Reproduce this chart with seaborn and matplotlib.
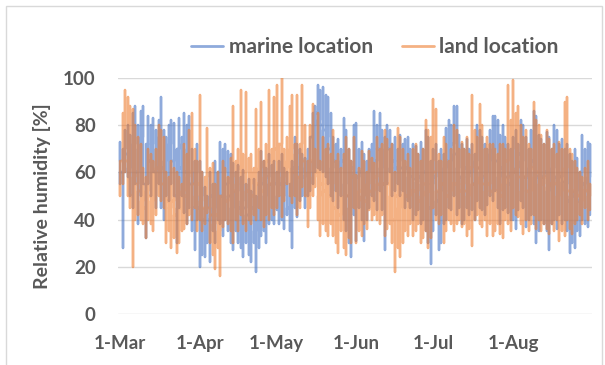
import numpy as np
import pandas as pd
import seaborn as sns
import matplotlib
matplotlib.use("Agg")
import matplotlib.pyplot as plt
from matplotlib.patches import Rectangle
from matplotlib.lines import Line2D

# ---- data: per day (1 Mar .. 31 Aug) max, min and midnight level of RH [%] ----
marine_max = [
    73, 62, 78, 80, 76, 85, 88, 80, 86, 88, 70, 84, 80, 83, 78, 82, 92, 78, 75, 80, 82, 81, 70, 83, 75, 85, 80, 84, 70, 65, 72,  # Mar
    65, 60, 54, 50, 60, 55, 65, 60, 73, 70, 72, 69, 68, 64, 60, 63, 58, 61, 55, 57, 52, 57, 50, 60, 69, 65, 62, 68, 63, 65,  # Apr
    60, 65, 68, 62, 60, 55, 65, 75, 72, 70, 68, 66, 70, 72, 85, 88, 97, 95, 96, 93, 92, 85, 75, 72, 74, 70, 83, 78, 70, 65, 80,  # May
    81, 70, 73, 68, 65, 70, 72, 86, 80, 85, 78, 75, 80, 78, 72, 75, 70, 76, 72, 74, 75, 70, 72, 71, 68, 73, 70, 78, 75, 65,  # Jun
    70, 72, 65, 70, 68, 79, 82, 80, 88, 88, 76, 72, 70, 74, 70, 72, 68, 80, 78, 75, 72, 70, 78, 84, 84, 82, 76, 80, 75, 72, 70,  # Jul
    75, 78, 72, 82, 80, 75, 70, 78, 86, 84, 76, 74, 72, 77, 75, 70, 80, 78, 72, 74, 70, 72, 68, 65, 70, 66, 60, 76, 70, 73, 72,  # Aug
]
marine_min = [
    55, 28, 60, 58, 50, 45, 55, 38, 50, 55, 32, 55, 50, 60, 45, 55, 45, 40, 50, 48, 55, 50, 30, 45, 50, 43, 38, 45, 35, 27, 40,
    20, 25, 24, 30, 22, 35, 30, 40, 38, 33, 40, 35, 30, 27, 35, 30, 28, 24, 30, 25, 22, 30, 18, 28, 33, 35, 30, 38, 40, 38,
    44, 38, 40, 36, 42, 35, 28, 45, 41, 48, 50, 45, 50, 52, 55, 60, 62, 61, 60, 58, 55, 50, 48, 52, 45, 50, 40, 35, 30, 24, 42,
    31, 45, 40, 31, 40, 45, 50, 48, 44, 52, 44, 27, 55, 60, 50, 52, 55, 50, 52, 45, 48, 45, 40, 42, 44, 38, 40, 35, 30, 21,
    35, 42, 27, 30, 38, 40, 45, 44, 50, 42, 45, 38, 40, 45, 42, 44, 40, 48, 45, 44, 42, 46, 50, 48, 52, 45, 38, 44, 45, 43, 40,
    40, 36, 44, 48, 45, 37, 40, 42, 38, 30, 35, 40, 38, 35, 27, 38, 40, 36, 42, 38, 40, 35, 26, 30, 28, 35, 33, 40, 38, 37, 42,
]
marine_night = [
    65, 60, 70, 68, 62, 70, 72, 60, 70, 75, 55, 72, 65, 72, 60, 70, 75, 62, 65, 68, 72, 65, 50, 70, 62, 72, 60, 70, 55, 45, 60,
    45, 50, 40, 45, 40, 50, 45, 55, 60, 50, 60, 55, 50, 45, 50, 52, 45, 48, 45, 42, 40, 45, 35, 45, 55, 55, 50, 58, 55, 55,
    55, 50, 55, 50, 55, 45, 50, 62, 60, 62, 60, 58, 62, 65, 75, 80, 85, 82, 80, 78, 75, 70, 62, 65, 60, 62, 65, 55, 50, 45, 62,
    60, 58, 60, 50, 55, 60, 62, 70, 65, 70, 62, 55, 70, 70, 62, 65, 62, 65, 62, 60, 62, 58, 58, 57, 56, 58, 55, 60, 55, 45,
    55, 58, 48, 52, 55, 62, 65, 65, 72, 68, 62, 58, 58, 62, 58, 60, 55, 65, 62, 60, 58, 60, 65, 68, 70, 65, 58, 62, 60, 58, 55,
    60, 60, 62, 68, 65, 58, 58, 62, 65, 60, 58, 60, 58, 60, 52, 55, 62, 58, 58, 58, 56, 55, 48, 50, 50, 52, 48, 60, 55, 56, 58,
]
land_max = [
    62, 85, 95, 92, 88, 87, 80, 75, 72, 62, 58, 70, 68, 65, 70, 80, 78, 75, 60, 58, 65, 62, 60, 58, 55, 72, 68, 78, 85, 70, 65,  # Mar
    93, 60, 55, 79, 62, 64, 55, 60, 50, 65, 62, 58, 66, 88, 65, 70, 95, 68, 94, 66, 68, 62, 87, 70, 90, 65, 72, 95, 70, 92,  # Apr
    97, 72, 100, 70, 75, 88, 93, 72, 93, 70, 97, 80, 65, 80, 89, 70, 85, 65, 75, 70, 72, 68, 78, 65, 68, 62, 68, 75, 70, 65, 75,  # May
    59, 62, 69, 65, 60, 69, 66, 64, 75, 70, 72, 78, 74, 70, 72, 60, 79, 75, 70, 65, 68, 62, 70, 72, 68, 65, 70, 82, 78, 75,  # Jun
    91, 87, 68, 65, 75, 72, 65, 70, 80, 78, 70, 73, 70, 75, 68, 93, 78, 75, 89, 80, 70, 75, 72, 72, 70, 68, 72, 72, 70, 97, 82,  # Jul
    99, 85, 88, 80, 75, 78, 72, 70, 90, 82, 80, 76, 72, 78, 74, 70, 72, 68, 73, 70, 90, 92, 70, 68, 65, 62, 60, 58, 62, 65, 55,  # Aug
]
land_min = [
    50, 55, 60, 50, 45, 20, 40, 42, 40, 38, 32, 40, 38, 35, 42, 50, 48, 45, 30, 35, 28, 32, 26, 30, 35, 36, 38, 42, 40, 45, 35,
    40, 35, 38, 43, 30, 25, 19, 28, 16, 37, 40, 38, 35, 30, 40, 35, 42, 38, 35, 40, 38, 42, 40, 45, 40, 37, 42, 40, 45, 42,
    45, 50, 41, 48, 55, 50, 47, 50, 42, 45, 54, 55, 37, 45, 50, 54, 40, 33, 38, 35, 33, 38, 33, 30, 26, 35, 28, 25, 32, 30, 45,
    30, 35, 33, 38, 36, 44, 40, 42, 40, 38, 42, 33, 36, 38, 30, 18, 28, 24, 30, 35, 33, 38, 33, 35, 38, 30, 32, 35, 28, 32,
    45, 40, 38, 42, 30, 35, 40, 38, 35, 38, 40, 37, 38, 33, 36, 29, 40, 42, 38, 37, 40, 33, 38, 33, 35, 38, 34, 32, 40, 38, 35,
    45, 42, 41, 38, 34, 40, 35, 38, 42, 36, 40, 35, 38, 36, 34, 38, 35, 40, 31, 35, 33, 40, 36, 34, 38, 40, 42, 38, 45, 40, 44,
]
land_night = [
    55, 65, 70, 65, 60, 50, 58, 55, 52, 48, 45, 52, 50, 48, 55, 62, 60, 55, 45, 48, 45, 48, 42, 45, 45, 52, 50, 58, 60, 55, 50,
    55, 48, 45, 58, 45, 42, 38, 42, 35, 50, 50, 48, 50, 58, 52, 55, 62, 55, 60, 52, 55, 50, 60, 55, 62, 52, 58, 65, 55, 65,
    70, 60, 72, 58, 62, 65, 70, 60, 68, 58, 72, 65, 50, 60, 65, 58, 60, 50, 55, 52, 55, 50, 55, 45, 48, 42, 48, 50, 50, 45, 58,
    45, 48, 52, 50, 48, 55, 52, 52, 58, 55, 55, 55, 55, 55, 50, 40, 50, 45, 50, 50, 50, 50, 52, 52, 52, 48, 50, 55, 52, 52,
    65, 60, 52, 52, 55, 52, 50, 52, 55, 55, 55, 52, 55, 52, 50, 62, 55, 55, 62, 58, 55, 52, 55, 52, 52, 52, 52, 50, 55, 65, 58,
    70, 60, 62, 58, 52, 58, 52, 52, 62, 58, 60, 55, 55, 58, 54, 55, 55, 55, 50, 52, 60, 62, 52, 50, 52, 50, 50, 48, 52, 52, 50,
]
series_names = ["marine location", "land location"]
tick_days = [0, 31, 61, 92, 122, 153]
tick_labels = ["1-Mar", "1-Apr", "1-May", "1-Jun", "1-Jul", "1-Aug"]
y_ticks = [0, 20, 40, 60, 80, 100]

# ---- long-form table: all readings of a day share the day's x position (date axis) ----
rows = []
for name, mx, mn, nt in [(series_names[0], marine_max, marine_min, marine_night),
                         (series_names[1], land_max, land_min, land_night)]:
    n = len(mx)
    for d in range(n):
        rows.append((name, d, nt[d]))
        rows.append((name, d, mx[d]))
        rows.append((name, d, mn[d]))
        if d + 1 < n:
            rows.append((name, d, nt[d + 1]))
df = pd.DataFrame(rows, columns=["series", "day", "rh"])

sns.set_theme(style="white")
plt.rcParams['font.family'] = ['Lato', 'DejaVu Sans']
txt = "#595959"

fig = plt.figure(figsize=(6.05, 3.65), dpi=100)
ax = fig.add_axes([118 / 605, 51 / 365, 474 / 605, 236 / 365])

palette = {"marine location": "#4472C4", "land location": "#ED7D31"}
sns.lineplot(data=df, x="day", y="rh", hue="series", palette=palette,
             estimator=None, sort=False, linewidth=1.75, alpha=0.6, ax=ax,
             legend=False)

ax.set_xlim(-0.8, 183.7)
ax.set_ylim(0, 100)
ax.set_yticks(y_ticks)
ax.set_xticks(tick_days)
ax.set_xticklabels(tick_labels)
for s in ax.spines.values():
    s.set_visible(False)
ax.grid(axis="y", color="#d9d9d9", linewidth=1.0)
ax.grid(axis="x", visible=False)
ax.set_axisbelow(True)
ax.tick_params(axis="both", length=0, colors=txt, labelsize=13.5)
ax.tick_params(axis="y", pad=16)
ax.tick_params(axis="x", pad=15)
for lab in ax.get_xticklabels() + ax.get_yticklabels():
    lab.set_fontweight("bold")
ax.set_xlabel("")
ax.set_ylabel("Relative humidity [%]", color=txt, fontsize=14, fontweight="bold", labelpad=9)

# legend
handles = [Line2D([], [], color=palette[n], lw=2, alpha=0.6) for n in series_names]
fig.legend(handles, series_names, loc="center", bbox_to_anchor=(375 / 605, 1 - 47 / 365),
           ncol=2, frameon=False, handlelength=1.55, columnspacing=1.4,
           handletextpad=0.25, prop={"weight": "bold", "size": 15}, labelcolor=txt)

fig.patches.append(Rectangle((6 / 605, -0.05), 596 / 605, 1.05 - 6 / 365,
                             transform=fig.transFigure, fill=False,
                             edgecolor="#d9d9d9", linewidth=1.0))

fig.savefig("out.png", dpi=100)
